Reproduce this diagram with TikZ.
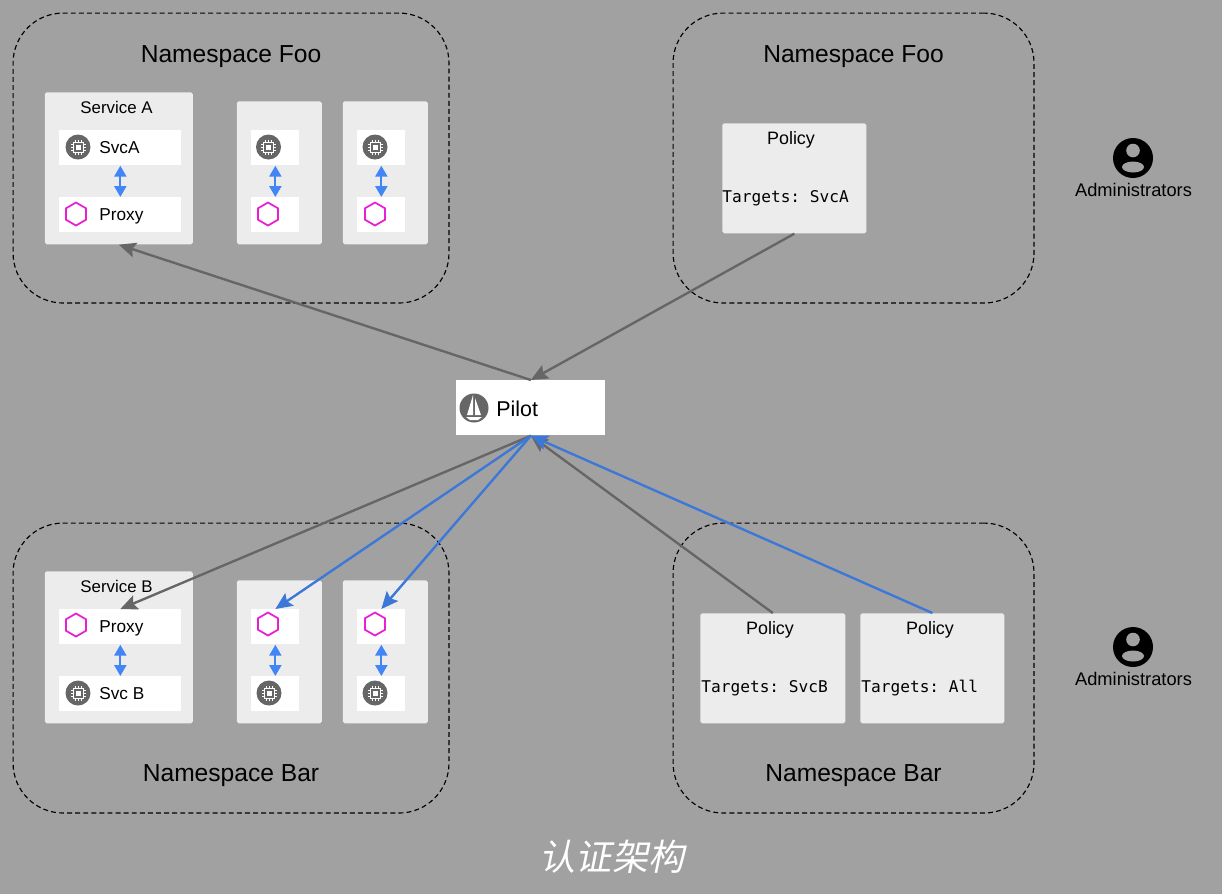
\documentclass[tikz,border=0pt]{standalone}
\usepackage{fontspec}
\setmainfont{Liberation Sans}
\setmonofont{DejaVu Sans Mono}
\newfontfamily\cjk[FakeSlant=0.2]{Noto Sans CJK SC}
\usetikzlibrary{arrows.meta,shapes.geometric}
\definecolor{bggray}{HTML}{A1A1A1}
\definecolor{cardgray}{HTML}{ECECEC}
\definecolor{linegray}{HTML}{666666}
\definecolor{iconblue}{HTML}{4285F4}
\definecolor{pushblue}{HTML}{3B78D8}
\definecolor{hexpink}{HTML}{E91FD6}
\tikzset{
  nsbox/.style={draw=black,line width=0.65pt,dash pattern=on 2.8pt off 1.8pt,rounded corners=1cm,minimum width=#1,minimum height=5.8cm,anchor=north west,inner sep=0pt},
  card/.style={fill=cardgray,rounded corners=1pt,anchor=north west,inner sep=0pt},
  row/.style={fill=white,anchor=north west,inner sep=0pt,minimum height=0.7cm},
  title/.style={font=\fontsize{14}{16}\selectfont,inner sep=0pt},
  small/.style={font=\fontsize{9.6}{11}\selectfont,inner sep=0pt},
  admin/.style={font=\fontsize{10.4}{12}\selectfont,inner sep=0pt},
  policy/.style={font=\fontsize{10.2}{12}\selectfont,inner sep=0pt},
  rowtext/.style={font=\fontsize{9.8}{11}\selectfont,inner sep=0pt,anchor=west},
  target/.style={font=\ttfamily\fontsize{9.2}{11}\selectfont,inner sep=0pt,anchor=west},
  hex/.style={draw=hexpink,line width=1pt,regular polygon,regular polygon sides=6,shape border rotate=30,minimum size=0.46cm,inner sep=0pt},
  chip/.pic={
    \fill[linegray] (0,0) circle (12.5);
    \draw[white,line width=0.5pt] (-5,-5) rectangle (5,5);
    \fill[white] (-2.5,-2.5) rectangle (2.5,2.5);
    \foreach \p in {-3,0,3} {
      \draw[white,line width=0.35pt] (\p,5) -- (\p,7.5);
      \draw[white,line width=0.35pt] (\p,-5) -- (\p,-7.5);
      \draw[white,line width=0.35pt] (5,\p) -- (7.5,\p);
      \draw[white,line width=0.35pt] (-5,\p) -- (-7.5,\p);
    }
  },
  person/.pic={
    \fill[black] (0,0) circle (20);
    \fill[bggray] (0,-7.5) circle (6.8);
    \fill[bggray] (0,9) ellipse (11 and 5.5);
  },
  link/.style={-{Stealth[length=0.34cm,width=0.3cm,inset=0.06cm]},line width=1.35pt,draw=linegray},
  push/.style={link,draw=pushblue,-{Stealth[length=0.34cm,width=0.3cm,inset=0.06cm,fill=pushblue]}},
  pair/.style={{Stealth[length=0.22cm,width=0.24cm,inset=0pt]}-{Stealth[length=0.22cm,width=0.24cm,inset=0pt]},line width=1.3pt,draw=iconblue}
}
\begin{document}
\begin{tikzpicture}[x=0.02cm,y=-0.02cm]
\useasboundingbox (0,0) rectangle (1222,894);
\fill[bggray] (0,0) rectangle (1222,894);

% namespaces
\node[nsbox=8.72cm] (fooL) at (12.5,12.5) {};
\node[nsbox=7.22cm] (fooR) at (672.5,12.5) {};
\node[nsbox=8.72cm] (barL) at (12.5,522.5) {};
\node[nsbox=7.22cm] (barR) at (672.5,522.5) {};
\node[title] (fooLt) at (231,57) {Namespace Foo};
\node[title] (fooRt) at (853.5,57) {Namespace Foo};
\node[title] (barLt) at (231,776) {Namespace Bar};
\node[title] (barRt) at (853.5,776) {Namespace Bar};

% top left services
\node[card,minimum width=2.96cm,minimum height=3.04cm] (svcA) at (44.5,92) {};
\node[card,minimum width=1.7cm,minimum height=2.86cm] (podA1) at (236.5,101) {};
\node[card,minimum width=1.7cm,minimum height=2.86cm] (podA2) at (342.5,101) {};
\node[small] (svcAt) at (116.5,107) {Service A};
\node[row,minimum width=2.44cm] (appA) at (59,130) {};
\node[row,minimum width=2.44cm] (proxyA) at (59,197) {};
\node[row,minimum width=0.96cm] (appA1) at (251,130) {};
\node[row,minimum width=0.96cm] (proxyA1) at (251,197) {};
\node[row,minimum width=0.96cm] (appA2) at (357,130) {};
\node[row,minimum width=0.96cm] (proxyA2) at (357,197) {};
\node[rowtext] (appAt) at (99,148) {SvcA};
\node[rowtext] (proxyAt) at (99,216.5) {Proxy};
\pic at (78,147) {chip};
\pic at (268.5,147) {chip};
\pic at (375,147) {chip};
\node[hex] (hexA) at (76,214) {};
\node[hex] (hexA1) at (268,214) {};
\node[hex] (hexA2) at (375,214) {};
\draw[pair] (appA) -- (proxyA);
\draw[pair] (appA1) -- (proxyA1);
\draw[pair] (appA2) -- (proxyA2);

% bottom left services
\node[card,minimum width=2.96cm,minimum height=3.04cm] (svcB) at (44.5,571) {};
\node[card,minimum width=1.7cm,minimum height=2.86cm] (podB1) at (236.5,580) {};
\node[card,minimum width=1.7cm,minimum height=2.86cm] (podB2) at (342.5,580) {};
\node[small] (svcBt) at (116.5,586) {Service B};
\node[row,minimum width=2.44cm] (proxyB) at (59,609) {};
\node[row,minimum width=2.44cm] (appB) at (59,676) {};
\node[row,minimum width=0.96cm] (proxyB1) at (251,609) {};
\node[row,minimum width=0.96cm] (appB1) at (251,676) {};
\node[row,minimum width=0.96cm] (proxyB2) at (357,609) {};
\node[row,minimum width=0.96cm] (appB2) at (357,676) {};
\node[rowtext] (proxyBt) at (99,628.5) {Proxy};
\node[rowtext] (appBt) at (99,694) {Svc B};
\pic at (78,693) {chip};
\pic at (269,693) {chip};
\pic at (375,693) {chip};
\node[hex] (hexB) at (76,625) {};
\node[hex] (hexB1) at (268,624) {};
\node[hex] (hexB2) at (375,624) {};
\draw[pair] (proxyB) -- (appB);
\draw[pair] (proxyB1) -- (appB1);
\draw[pair] (proxyB2) -- (appB2);

% policies
\node[card,minimum width=2.88cm,minimum height=2.2cm] (polA) at (722,123) {};
\node[card,minimum width=2.9cm,minimum height=2.2cm] (polB) at (700,613) {};
\node[card,minimum width=2.88cm,minimum height=2.2cm] (polAll) at (860,613) {};
\node[policy] (polAt) at (791,139.5) {Policy};
\node[policy] (polBt) at (770,629.5) {Policy};
\node[policy] (polAllt) at (930,629.5) {Policy};
\node[target] (tgtA) at (722,198) {Targets: SvcA};
\node[target] (tgtB) at (701,688) {Targets: SvcB};
\node[target] (tgtAll) at (861,688) {Targets: All};

% pilot
\node[fill=white,anchor=north west,inner sep=0pt,minimum width=2.98cm,minimum height=1.1cm] (pilot) at (456,380) {};
\fill[linegray] (474,408) circle (14.5);
\fill[white] (473,395) -- (467,415) -- (473,415) -- cycle;
\fill[white] (475,398) -- (475,415) -- (481,415) -- cycle;
\fill[white] (466,417) -- (482,417) -- (478,420) -- (470,420) -- cycle;
\node[rowtext,font=\fontsize{12.2}{14}\selectfont] (pilott) at (496,408.5) {Pilot};

% administrators
\pic at (1133,158) {person};
\pic at (1133,647) {person};
\node[admin] (admA) at (1133.5,190) {Administrators};
\node[admin] (admB) at (1133.5,679) {Administrators};

% connectors
\draw[link] (pilot.north) -- (svcA.south);
\draw[link] (polA.south) -- (pilot.north);
\draw[link] (pilot.south) -- (proxyB.north);
\draw[push] (pilot.south) -- (proxyB1.north);
\draw[push] (pilot.south) -- (proxyB2.north);
\draw[link] (polB.north) -- (pilot.south);
\draw[push] (polAll.north) -- (pilot.south);

\node[font=\cjk\fontsize{20.6}{24}\selectfont,text=white,inner sep=0pt] (caption) at (612,857) {认证架构};
\end{tikzpicture}
\end{document}
